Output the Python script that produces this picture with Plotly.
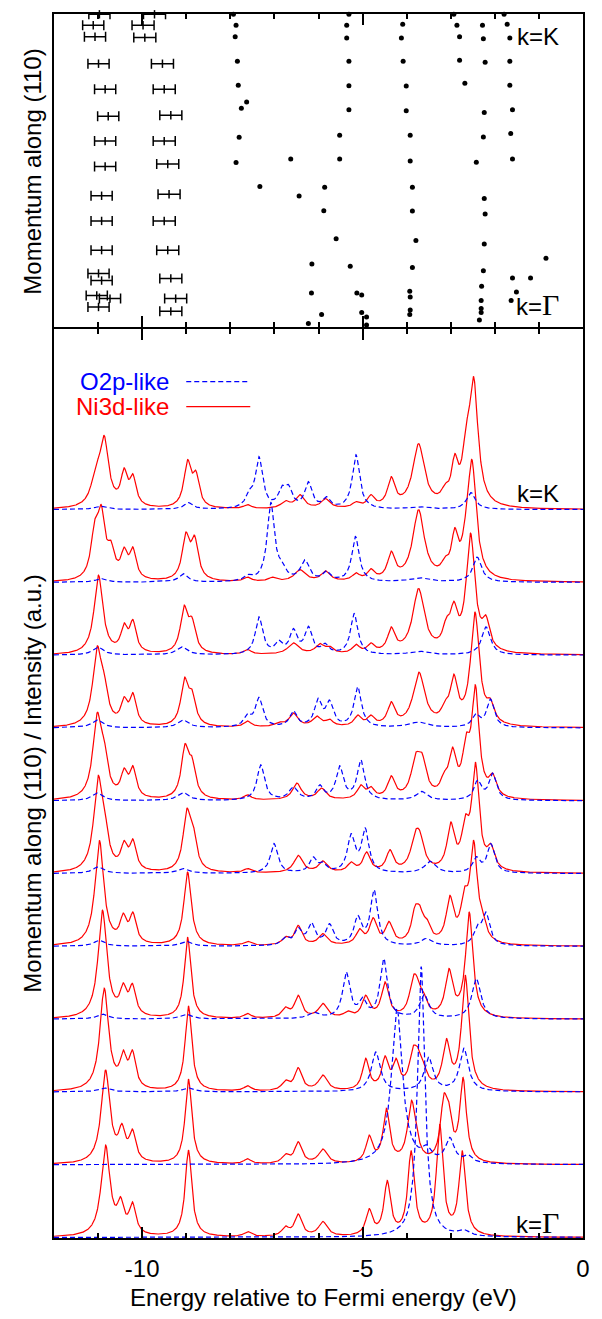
import numpy as np
import plotly.graph_objects as go

# ---------------- top panel: band positions (energy eV, momentum Γ=0 .. K=1) ----------------
BAND_E = [-7.93, -7.87, -7.89, -7.84, -7.82, -7.63, -7.75, -7.80, -7.87, -6.63, -7.33, -6.44,
          -5.86, -5.88, -6.15, -6.16, -5.93, -6.23,
          -5.31, -5.36, -5.36, -5.31, -5.31, -5.31, -5.52, -5.52, -5.60, -5.28, -5.13, -5.02,
          -5.02, -4.91, -4.91,
          -4.22, -4.09, -4.12, -4.08, -4.01, -4.01, -3.92, -3.92, -3.87, -3.87, -3.79, -3.87,
          -3.93, -3.92, -3.92, -3.93,
          -2.93, -2.86, -2.80, -2.80, -2.68,
          -2.30, -2.28, -2.26, -2.22, -2.24, -2.26, -2.42, -2.24, -2.22, -2.24, -2.26, -2.30,
          -2.31, -2.31, -2.31, -2.35,
          -1.79, -1.72, -1.66, -1.66, -1.66, -1.60, -1.64, -1.60,
          -0.84, -1.60, -1.19, -1.51, -1.63]
BAND_K = [0.999, 0.964, 0.927, 0.848, 0.771, 0.717, 0.697, 0.603, 0.522, 0.533, 0.445, 0.414,
          0.442, 0.367, 0.195, 0.102, 0.033, 0.004,
          0.999, 0.964, 0.923, 0.848, 0.769, 0.692, 0.610, 0.533, 0.277, 0.188, 0.102, 0.096,
          0.039, 0.025, -0.001,
          1.001, 0.967, 0.923, 0.848, 0.768, 0.689, 0.610, 0.527, 0.442, 0.366, 0.271, 0.184,
          0.108, 0.089, 0.047, 0.033,
          0.999, 0.964, 0.927, 0.851, 0.777,
          1.001, 0.964, 0.920, 0.845, 0.683, 0.604, 0.523, 0.406, 0.356, 0.260, 0.174, 0.124,
          0.078, 0.052, 0.039, 0.015,
          0.999, 0.967, 0.923, 0.848, 0.771, 0.692, 0.615, 0.533,
          0.214, 0.150, 0.150, 0.105, 0.078]

# measured peaks with uncertainty, deep band (~ -11 eV)
DEEP_E = [-10.97, -11.11, -11.07, -10.99, -10.84, -10.77, -10.84, -10.84, -10.92, -10.92,
          -10.92, -10.99, -10.92, -11.03, -10.73, -10.99]
DEEP_K = [0.999, 0.964, 0.927, 0.840, 0.758, 0.671, 0.591, 0.509, 0.415, 0.334,
          0.240, 0.165, 0.142, 0.094, 0.084, 0.057]
DEEP_ERR = [0.24] * 16
# measured peaks with uncertainty, second band (~ -9.5 eV)
MID_E = [-9.72, -9.98, -9.94, -9.54, -9.50, -9.35, -9.50, -9.42, -9.39, -9.50,
         -9.42, -9.35, -9.24, -9.35]
MID_K = [0.999, 0.964, 0.924, 0.840, 0.758, 0.674, 0.591, 0.517, 0.420, 0.334,
         0.240, 0.149, 0.084, 0.043]
MID_ERR = [0.25] * 14

# ---------------- bottom panel: spectral peaks (energy eV, height a.u., half width eV) ----------------
# index 00 = Γ ... 10 = K ; spectra are stacked one unit apart
NI3D_00 = [(-10.83, 1.270, .12), (-10.49, 0.560, .09), (-10.22, 0.491, .09), (-8.95, 1.201, .09),
           (-7.61, 0.082, .1), (-6.75, 0.158, .1), (-6.46, 0.323, .1), (-5.90, 0.220, .12),
           (-4.85, 0.398, .09), (-4.44, 0.782, .09), (-3.90, 1.194, .09), (-3.25, 1.558, .09),
           (-2.74, 1.194, .09)]
O2P_00 = [(-3.67, 3.720, .1), (-2.70, 0.110, .15)]

NI3D_01 = [(-10.83, 1.300, .12), (-10.46, 0.567, .09), (-10.22, 0.490, .09), (-8.95, 1.176, .09),
           (-7.61, 0.082, .1), (-6.75, 0.151, .1), (-6.46, 0.316, .1), (-5.90, 0.216, .12),
           (-4.85, 0.408, .09), (-4.46, 0.773, .09), (-3.90, 0.879, .1), (-3.81, 0.673, .1),
           (-3.16, 0.970, .09), (-3.05, 0.879, .09), (-2.72, 1.198, .09)]
O2P_01 = [(-4.22, 2.141, .15), (-3.55, 0.275, .12), (-3.02, 0.375, .12), (-2.60, 0.137, .12)]

NI3D_02 = [(-10.86, 1.423, .12), (-10.43, 0.577, .09), (-10.22, 0.577, .09), (-8.95, 1.181, .09),
           (-7.61, 0.086, .1), (-6.75, 0.165, .1), (-6.46, 0.334, .1), (-5.90, 0.233, .12),
           (-4.93, 0.463, .09), (-4.49, 0.494, .09), (-4.24, 0.463, .09), (-3.86, 0.622, .1),
           (-3.75, 0.618, .1), (-3.62, 0.416, .1), (-3.10, 0.737, .1), (-2.67, 1.606, .1)]
O2P_02 = [(-10.86, 0.055, .15), (-8.95, 0.055, .15), (-4.70, 0.549, .12), (-3.50, 0.480, .12),
          (-2.70, 0.600, .12)]

NI3D_03 = [(-10.90, 1.496, .12), (-10.43, 0.498, .09), (-10.22, 0.490, .09), (-8.97, 1.126, .09),
           (-7.61, 0.078, .1), (-6.75, 0.169, .1), (-6.46, 0.329, .1), (-5.90, 0.216, .12),
           (-5.34, 0.114, .1), (-4.93, 0.329, .1), (-4.49, 0.512, .1), (-3.86, 0.590, .1),
           (-3.77, 0.590, .1), (-3.62, 0.375, .1), (-3.04, 0.696, .1), (-2.58, 1.469, .1)]
O2P_03 = [(-10.90, 0.069, .15), (-9.00, 0.069, .15), (-6.10, 0.096, .15), (-5.37, 0.649, .1),
          (-5.00, 0.302, .1), (-4.52, 0.833, .1), (-3.60, 0.343, .12), (-2.42, 0.559, .12)]

NI3D_04 = [(-10.97, 1.455, .12), (-10.43, 0.457, .09), (-10.21, 0.471, .09), (-8.97, 1.020, .1),
           (-7.61, 0.069, .1), (-6.75, 0.137, .1), (-6.46, 0.288, .1), (-5.90, 0.174, .12),
           (-5.07, 0.243, .1), (-4.76, 0.394, .1), (-4.40, 0.343, .1), (-3.81, 0.563, .1),
           (-3.70, 0.563, .1), (-3.54, 0.380, .1), (-3.02, 0.700, .1), (-2.69, 0.814, .1),
           (-2.48, 1.455, .1), (-2.28, 0.494, .1)]
O2P_04 = [(-10.97, 0.082, .15), (-9.00, 0.069, .15), (-6.75, 0.137, .1), (-6.46, 0.261, .1),
          (-6.16, 0.329, .1), (-5.75, 0.312, .1), (-5.11, 0.426, .1), (-4.74, 0.778, .1),
          (-3.55, 0.110, .15), (-2.39, 0.312, .1), (-2.20, 0.471, .1)]

NI3D_05 = [(-11.00, 1.345, .12), (-10.85, 0.892, .1), (-10.41, 0.453, .09), (-10.21, 0.476, .09),
           (-8.99, 0.892, .1), (-8.85, 0.700, .1), (-7.61, 0.069, .1), (-6.46, 0.251, .12),
           (-5.90, 0.173, .12), (-5.26, 0.161, .1), (-4.91, 0.298, .1), (-4.38, 0.329, .1),
           (-3.81, 0.585, .12), (-3.70, 0.585, .12), (-3.00, 0.708, .1), (-2.67, 0.810, .1),
           (-2.44, 1.532, .1), (-2.09, 0.412, .1)]
O2P_05 = [(-11.00, 0.092, .15), (-9.07, 0.069, .15), (-7.01, 0.412, .1), (-6.12, 0.229, .1),
          (-5.90, 0.161, .1), (-5.26, 0.549, .1), (-4.94, 0.626, .1), (-3.47, 0.169, .15),
          (-2.42, 0.233, .1), (-2.09, 0.412, .1)]

NI3D_06 = [(-11.02, 1.212, .12), (-10.86, 0.837, .1), (-10.41, 0.449, .09), (-10.21, 0.480, .09),
           (-9.03, 0.782, .1), (-8.87, 0.608, .1), (-7.61, 0.082, .1), (-6.49, 0.243, .12),
           (-5.93, 0.174, .12), (-5.04, 0.220, .1), (-4.81, 0.196, .1), (-4.35, 0.343, .1),
           (-3.80, 0.655, .12), (-3.65, 0.655, .12), (-3.15, 0.402, .1), (-2.96, 0.737, .1),
           (-2.65, 0.929, .1), (-2.44, 1.592, .1), (-2.05, 0.380, .1)]
O2P_06 = [(-11.02, 0.106, .15), (-9.07, 0.114, .15), (-7.31, 0.494, .1), (-6.57, 0.192, .12),
          (-5.97, 0.220, .1), (-5.52, 0.480, .1), (-5.04, 0.563, .1), (-3.66, 0.128, .15),
          (-2.39, 0.288, .1), (-2.05, 0.380, .1)]

NI3D_07 = [(-11.02, 1.126, .12), (-10.86, 0.751, .1), (-10.41, 0.430, .09), (-10.21, 0.485, .09),
           (-9.04, 0.696, .1), (-8.87, 0.531, .1), (-7.61, 0.096, .1), (-6.90, 0.082, .12),
           (-6.57, 0.206, .12), (-6.04, 0.165, .12), (-5.75, 0.124, .1), (-5.11, 0.178, .1),
           (-4.81, 0.178, .1), (-4.35, 0.361, .1), (-3.72, 0.765, .16), (-3.13, 0.384, .1),
           (-2.93, 0.741, .1), (-2.45, 1.592, .12), (-2.10, 0.408, .1)]
O2P_07 = [(-11.02, 0.110, .15), (-9.07, 0.110, .15), (-7.61, 0.202, .1), (-7.35, 0.421, .1),
          (-6.57, 0.237, .1), (-6.01, 0.408, .1), (-5.75, 0.384, .1), (-5.11, 0.567, .1),
          (-3.73, 0.082, .25), (-2.43, 0.202, .1), (-2.10, 0.398, .1)]

NI3D_08 = [(-10.99, 1.098, .12), (-10.41, 0.443, .09), (-10.21, 0.490, .09), (-9.05, 0.686, .1),
           (-8.87, 0.526, .1), (-7.61, 0.078, .1), (-6.57, 0.169, .15), (-5.97, 0.161, .12),
           (-5.75, 0.128, .1), (-5.15, 0.151, .1), (-4.81, 0.169, .1), (-4.35, 0.388, .1),
           (-3.73, 0.916, .16), (-3.10, 0.522, .1), (-2.93, 0.741, .1), (-2.55, 1.675, .12),
           (-2.20, 0.549, .1)]
O2P_08 = [(-11.00, 0.110, .15), (-9.10, 0.114, .15), (-7.35, 0.526, .1), (-6.90, 0.206, .1),
          (-6.57, 0.367, .1), (-6.23, 0.398, .1), (-5.85, 0.165, .1), (-5.19, 0.572, .1),
          (-3.73, 0.055, .25), (-2.20, 0.388, .12)]

NI3D_09 = [(-11.08, 0.851, .1), (-10.93, 1.071, .1), (-10.71, 0.577, .1), (-10.41, 0.485, .09),
           (-10.21, 0.485, .09), (-9.01, 0.690, .1), (-8.81, 0.645, .1), (-7.61, 0.073, .1),
           (-7.05, 0.073, .1), (-6.42, 0.174, .15), (-5.84, 0.158, .12), (-5.15, 0.133, .1),
           (-4.81, 0.188, .1), (-4.35, 0.430, .1), (-3.73, 0.998, .16), (-3.13, 0.357, .1),
           (-2.91, 0.751, .09), (-2.66, 0.961, .1), (-2.52, 1.688, .12)]
O2P_09 = [(-10.93, 0.051, .15), (-9.07, 0.119, .12), (-7.60, 0.110, .1), (-7.08, 1.098, .1),
          (-6.83, 0.302, .1), (-6.31, 0.312, .12), (-5.82, 0.165, .1), (-5.16, 0.631, .1),
          (-3.73, 0.065, .25), (-2.40, 0.347, .12)]

NI3D_10 = [(-11.05, 0.620, .13), (-10.86, 1.016, .12), (-10.41, 0.572, .09), (-10.21, 0.490, .09),
           (-8.97, 0.686, .1), (-8.78, 0.535, .09), (-7.61, 0.069, .1), (-6.75, 0.124, .12),
           (-6.42, 0.206, .12), (-5.84, 0.151, .12), (-5.15, 0.110, .1), (-4.81, 0.206, .1),
           (-4.35, 0.453, .1), (-3.73, 0.906, .16), (-3.13, 0.357, .1), (-2.91, 0.769, .09),
           (-2.65, 1.181, .1), (-2.48, 1.826, .12)]
O2P_10 = [(-10.95, 0.045, .15), (-8.95, 0.096, .12), (-7.57, 0.275, .1), (-7.35, 0.728, .1),
          (-6.83, 0.329, .1), (-6.68, 0.343, .1), (-6.23, 0.384, .1), (-5.82, 0.178, .1),
          (-5.15, 0.755, .1), (-3.73, 0.041, .25), (-2.54, 0.233, .12)]

NI3D = [NI3D_00, NI3D_01, NI3D_02, NI3D_03, NI3D_04, NI3D_05,
        NI3D_06, NI3D_07, NI3D_08, NI3D_09, NI3D_10]
O2P = [O2P_00, O2P_01, O2P_02, O2P_03, O2P_04, O2P_05,
       O2P_06, O2P_07, O2P_08, O2P_09, O2P_10]

E_MIN, E_MAX = -12.0, 0.0
energy = np.linspace(E_MIN, E_MAX, 2401)


def lorentz(e, c, w):
    return 1.0 / (1.0 + ((e - c) / w) ** 2)


def spectrum(peaks, grid):
    """Lorentzian-broadened spectrum whose value at each listed energy equals its listed height."""
    c = np.array([p[0] for p in peaks])
    h = np.array([p[1] for p in peaks])
    w = np.array([p[2] for p in peaks])
    A = lorentz(c[:, None], c[None, :], w[None, :])
    active = np.ones(len(c), bool)
    amp = np.zeros(len(c))
    for _ in range(len(c)):
        sol = np.linalg.lstsq(A[:, active], h, rcond=None)[0]
        amp[:] = 0
        amp[active] = sol
        if (amp >= 0).all():
            break
        active &= amp > 0
    return (amp[None, :] * lorentz(grid[:, None], c[None, :], w[None, :])).sum(axis=1)


FONT = "Liberation Sans, Arial, sans-serif"
RED = "#ff0000"
BLUE = "#0000ff"

fig = go.Figure()

# stacked spectra
for i in range(len(NI3D)):
    fig.add_trace(go.Scatter(x=energy, y=i + spectrum(NI3D[i], energy), mode="lines",
                             line=dict(color=RED, width=1.2), hoverinfo="skip",
                             showlegend=False, xaxis="x", yaxis="y"))
for i in range(len(O2P)):
    fig.add_trace(go.Scatter(x=energy, y=i + spectrum(O2P[i], energy), mode="lines",
                             line=dict(color=BLUE, width=1.2, dash="5px,3px"), hoverinfo="skip",
                             showlegend=False, xaxis="x", yaxis="y"))

# band structure panel
for ex, ky, er in ((DEEP_E, DEEP_K, DEEP_ERR), (MID_E, MID_K, MID_ERR)):
    fig.add_trace(go.Scatter(x=ex, y=ky, mode="markers", xaxis="x2", yaxis="y2",
                             marker=dict(symbol="line-ns", size=6, color="black",
                                         line=dict(width=1.5, color="black")),
                             error_x=dict(type="data", array=er, visible=True, width=5,
                                          thickness=1.5, color="black"),
                             cliponaxis=False, showlegend=False, hoverinfo="skip"))
fig.add_trace(go.Scatter(x=BAND_E, y=BAND_K, mode="markers", xaxis="x2", yaxis="y2",
                         marker=dict(symbol="circle", size=5, color="black"),
                         cliponaxis=False, showlegend=False, hoverinfo="skip"))

PLOT_H = 1225.0
SPLIT = 0.7429                 # top of the spectra panel
SPLIT_TOP = SPLIT + 2 / PLOT_H  # bottom of the band panel, so both frame lines coincide
axis_common = dict(showline=True, linecolor="black", linewidth=2, mirror="ticks",
                   showgrid=False, zeroline=False)

fig.update_layout(
    width=602, height=1319,
    margin=dict(l=54, r=12, t=13, b=81),
    paper_bgcolor="white", plot_bgcolor="white",
    font=dict(family=FONT, size=24, color="black"),
    xaxis=dict(domain=[0, 1], range=[E_MIN, E_MAX], anchor="y",
               tickmode="array", tickvals=[-10, -5, 0], ticktext=["-10", "-5", "0"],
               ticks="inside", ticklen=11, tickwidth=1.5, tickcolor="black",
               ticklabelstandoff=8, tickfont=dict(size=24),
               minor=dict(tickmode="linear", tick0=0, dtick=1, ticks="inside",
                          ticklen=5, tickwidth=1.5, tickcolor="black"),
               **axis_common),
    yaxis=dict(domain=[0, SPLIT], range=[-0.007, 12.485], anchor="x",
               showticklabels=False, ticks="", **axis_common),
    xaxis2=dict(domain=[0, 1], range=[E_MIN, E_MAX], anchor="y2", matches="x",
                tickmode="array", tickvals=[-10, -5, 0], showticklabels=False,
                ticks="inside", ticklen=11, tickwidth=1.5, tickcolor="black",
                minor=dict(tickmode="linear", tick0=0, dtick=1, ticks="inside",
                           ticklen=5, tickwidth=1.5, tickcolor="black"),
                **axis_common),
    yaxis2=dict(domain=[SPLIT_TOP, 1], range=[-0.0064, 1.0], anchor="x2",
                showticklabels=False, ticks="", **axis_common),
)

# axis titles
fig.add_annotation(text="Energy relative to Fermi energy (eV)", xref="paper", yref="paper",
                   x=0.509, y=-0.049, showarrow=False, font=dict(size=24),
                   xanchor="center", yanchor="middle")
fig.add_annotation(text="Momentum along (110) / Intensity (a.u.)", xref="paper", yref="paper",
                   x=-0.041, y=SPLIT / 2, showarrow=False, textangle=-90, font=dict(size=24),
                   xanchor="center", yanchor="middle")
fig.add_annotation(text="Momentum along (110)", xref="paper", yref="paper",
                   x=-0.041, y=(1 + SPLIT) / 2, showarrow=False, textangle=-90,
                   font=dict(size=24), xanchor="center", yanchor="middle")

# k-point labels
GAMMA = "k=<span style=\"font-family:'Liberation Serif', 'Times New Roman', serif; font-size:30px\">Γ</span>"
for txt, yy in (("k=K", 0.982), (GAMMA, 0.763), ("k=K", 0.608), (GAMMA, 0.0125)):
    fig.add_annotation(text=txt, xref="paper", yref="paper", x=0.914, y=yy,
                       showarrow=False, font=dict(size=24), xanchor="center", yanchor="middle")

# legend
for txt, col, yy, dash in (("O2p-like", BLUE, 0.6996, "5px,3px"),
                           ("Ni3d-like", RED, 0.6792, "solid")):
    fig.add_annotation(text=txt, xref="paper", yref="paper", x=0.221, y=yy,
                       showarrow=False, font=dict(size=24, color=col),
                       xanchor="right", yanchor="middle")
    fig.add_shape(type="line", xref="paper", yref="paper", x0=0.250, x1=0.371,
                  y0=yy, y1=yy, line=dict(color=col, width=1.2, dash=dash))

fig.write_html("out.html", config={"displayModeBar": False})
